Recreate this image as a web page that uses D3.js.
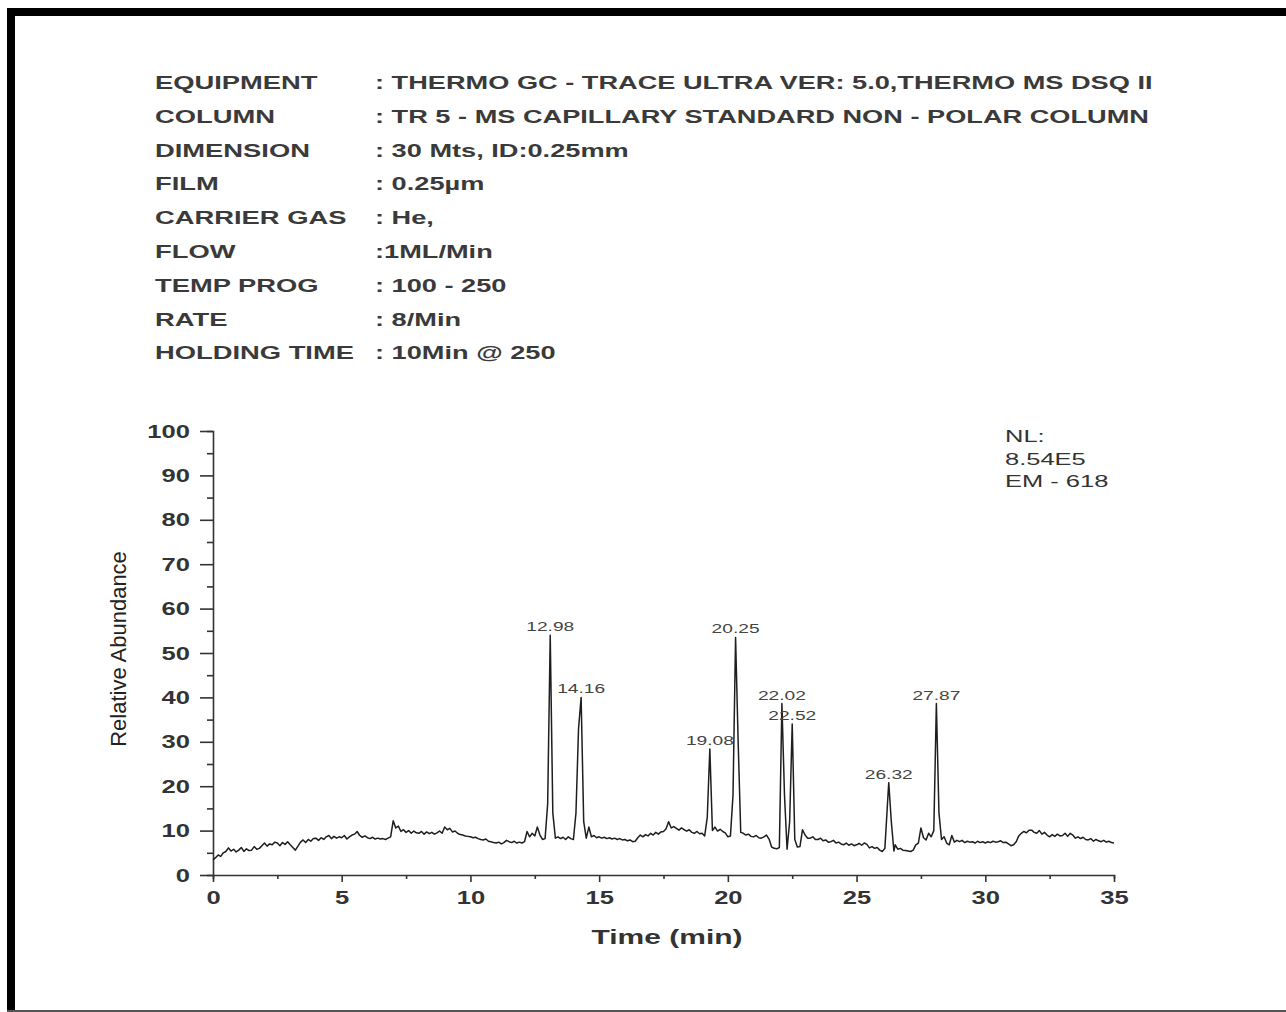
<!DOCTYPE html>
<html>
<head>
<meta charset="utf-8">
<script src="https://cdn.jsdelivr.net/npm/d3@7"></script>
<style>
  html, body { margin: 0; padding: 0; background: #fff; }
  svg { display: block; }
</style>
</head>
<body>
<div id="chart"></div>
<script>
// GC-MS run conditions printed above the chromatogram
const methodKeys = ['EQUIPMENT', 'COLUMN', 'DIMENSION', 'FILM', 'CARRIER GAS', 'FLOW', 'TEMP PROG', 'RATE', 'HOLDING TIME'];
const methodValues = [
  ': THERMO GC - TRACE ULTRA VER: 5.0,THERMO MS DSQ II',
  ': TR 5 - MS CAPILLARY STANDARD NON - POLAR COLUMN',
  ': 30 Mts, ID:0.25mm',
  ': 0.25µm',
  ': He,',
  ':1ML/Min',
  ': 100 - 250',
  ': 8/Min',
  ': 10Min @ 250'
];
const noteLines = ['NL:', '8.54E5', 'EM - 618'];

// labelled peaks: printed retention time, apex position and apex height as drawn
const peakLabels = ['12.98', '14.16', '19.08', '20.25', '22.02', '22.52', '26.32', '27.87'];
const peakTimes = [13.1, 14.3, 19.3, 20.3, 22.1, 22.5, 26.25, 28.1];
const peakHeights = [54, 40, 28.4, 53.5, 38.6, 34, 20.8, 38.6];

const xTicks = [0, 5, 10, 15, 20, 25, 30, 35];
const yTicks = [0, 10, 20, 30, 40, 50, 60, 70, 80, 90, 100];

// chromatogram trace [time (min), relative abundance]
const trace = [
  [0.0, 3.4], [0.1, 3.9], [0.2, 4.5], [0.3, 4.2], [0.4, 5.0], [0.5, 5.3], [0.6, 6.1], [0.7, 5.4], [0.8, 5.8], [0.9, 5.2],
  [1.0, 5.6], [1.1, 6.2], [1.2, 5.3], [1.3, 5.9], [1.4, 5.5], [1.5, 5.6], [1.6, 6.4], [1.7, 5.8], [1.8, 6.0], [1.9, 6.6],
  [2.0, 7.2], [2.1, 6.5], [2.2, 7.0], [2.3, 6.8], [2.4, 7.4], [2.5, 7.2], [2.6, 6.6], [2.7, 7.3], [2.8, 6.9], [2.9, 7.5],
  [3.0, 6.8], [3.1, 6.2], [3.2, 5.6], [3.3, 6.5], [3.4, 7.4], [3.5, 7.9], [3.6, 7.3], [3.7, 8.0], [3.8, 7.6], [3.9, 8.2],
  [4.0, 8.3], [4.1, 7.8], [4.2, 8.4], [4.3, 8.0], [4.4, 8.6], [4.5, 8.9], [4.6, 8.2], [4.7, 8.7], [4.8, 8.3], [4.9, 8.6],
  [5.0, 8.4], [5.1, 8.9], [5.2, 8.1], [5.3, 8.6], [5.4, 9.0], [5.5, 9.2], [5.6, 9.8], [5.7, 8.9], [5.8, 8.5], [5.9, 8.8],
  [6.0, 8.4], [6.1, 8.2], [6.2, 8.5], [6.3, 8.1], [6.4, 8.3], [6.5, 8.1], [6.6, 8.2], [6.7, 8.0], [6.8, 8.3], [6.9, 8.6],
  [7.0, 12.2], [7.1, 10.6], [7.2, 11.0], [7.3, 9.8], [7.4, 10.2], [7.5, 9.6], [7.6, 10.0], [7.7, 9.4], [7.8, 9.9], [7.9, 9.5],
  [8.0, 9.4], [8.1, 9.8], [8.2, 9.2], [8.3, 9.7], [8.4, 9.3], [8.5, 9.6], [8.6, 9.2], [8.7, 9.5], [8.8, 9.9], [8.9, 9.4],
  [9.0, 10.8], [9.1, 10.2], [9.2, 10.5], [9.3, 9.7], [9.4, 9.9], [9.5, 9.4], [9.6, 9.1], [9.7, 9.0], [9.8, 8.8], [9.9, 8.7],
  [10.0, 8.6], [10.1, 8.4], [10.2, 8.5], [10.3, 8.2], [10.4, 8.0], [10.5, 7.9], [10.6, 8.1], [10.7, 7.6], [10.8, 7.5], [10.9, 7.3],
  [11.0, 7.2], [11.1, 7.4], [11.2, 7.0], [11.3, 7.3], [11.4, 7.8], [11.5, 7.5], [11.6, 7.3], [11.7, 7.6], [11.8, 7.2], [11.9, 7.4],
  [12.0, 7.2], [12.1, 7.5], [12.2, 9.8], [12.3, 8.6], [12.4, 9.4], [12.5, 8.8], [12.6, 10.8], [12.7, 9.0], [12.8, 8.0], [12.9, 8.2],
  [13.0, 16], [13.1, 54], [13.2, 14], [13.3, 8.3], [13.4, 8.6], [13.5, 8.2], [13.6, 8.5], [13.7, 8.0], [13.8, 8.6], [13.9, 8.2],
  [14.0, 8.0], [14.1, 14], [14.2, 33], [14.3, 40], [14.4, 12], [14.5, 8.3], [14.6, 10.8], [14.7, 8.6], [14.8, 8.9], [14.9, 8.4],
  [15.0, 8.6], [15.1, 8.3], [15.2, 8.5], [15.3, 8.2], [15.4, 8.4], [15.5, 8.1], [15.6, 8.3], [15.7, 8.0], [15.8, 8.2], [15.9, 7.9],
  [16.0, 8.0], [16.1, 7.7], [16.2, 7.9], [16.3, 7.5], [16.4, 7.6], [16.5, 8.4], [16.6, 9.0], [16.7, 8.6], [16.8, 9.1], [16.9, 8.8],
  [17.0, 9.4], [17.1, 9.0], [17.2, 9.6], [17.3, 9.2], [17.4, 9.7], [17.5, 9.8], [17.6, 10.4], [17.7, 12.0], [17.8, 10.6], [17.9, 10.9],
  [18.0, 10.5], [18.1, 10.1], [18.2, 10.6], [18.3, 10.2], [18.4, 9.9], [18.5, 10.2], [18.6, 9.6], [18.7, 9.4], [18.8, 9.8], [18.9, 9.3],
  [19.0, 9.4], [19.1, 8.8], [19.2, 13], [19.3, 28.4], [19.4, 10], [19.5, 10.8], [19.6, 9.9], [19.7, 10.3], [19.8, 9.8], [19.9, 9.5],
  [20.0, 8.6], [20.1, 8.8], [20.2, 18], [20.3, 53.5], [20.4, 30], [20.5, 9.6], [20.6, 9.4], [20.7, 9.0], [20.8, 9.2], [20.9, 8.7],
  [21.0, 8.6], [21.1, 8.9], [21.2, 8.4], [21.3, 8.3], [21.4, 8.6], [21.5, 9.0], [21.6, 8.1], [21.7, 6.3], [21.8, 6.0], [21.9, 5.9],
  [22.0, 6.2], [22.1, 38.6], [22.2, 18], [22.3, 5.8], [22.4, 12], [22.5, 34], [22.6, 8.0], [22.7, 6.3], [22.8, 6.4], [22.9, 10.2],
  [23.0, 9.0], [23.1, 8.3], [23.2, 8.3], [23.3, 8.6], [23.4, 8.0], [23.5, 8.0], [23.6, 8.3], [23.7, 7.7], [23.8, 7.9], [23.9, 7.4],
  [24.0, 7.5], [24.1, 7.8], [24.2, 7.2], [24.3, 7.4], [24.4, 7.0], [24.5, 6.8], [24.6, 7.2], [24.7, 6.7], [24.8, 7.0], [24.9, 6.6],
  [25.0, 6.8], [25.1, 7.1], [25.2, 6.7], [25.3, 7.2], [25.4, 6.9], [25.5, 6.1], [25.6, 6.4], [25.7, 6.0], [25.8, 6.2], [25.9, 5.6],
  [26.0, 5.3], [26.1, 6.0], [26.2, 16], [26.25, 20.8], [26.35, 12], [26.45, 5.4], [26.5, 6.8], [26.6, 5.8], [26.7, 6.0], [26.8, 5.6], [26.9, 5.5],
  [27.0, 5.4], [27.1, 5.3], [27.2, 5.6], [27.3, 6.8], [27.4, 7.2], [27.5, 10.6], [27.6, 8.4], [27.7, 7.9], [27.8, 9.4], [27.9, 8.6],
  [28.0, 10], [28.1, 38.6], [28.2, 14], [28.3, 8.0], [28.4, 8.6], [28.5, 7.2], [28.6, 6.8], [28.7, 8.9], [28.8, 7.4], [28.9, 7.8],
  [29.0, 7.5], [29.1, 7.8], [29.2, 7.3], [29.3, 7.6], [29.4, 7.4], [29.5, 7.5], [29.6, 7.2], [29.7, 7.6], [29.8, 7.3], [29.9, 7.5],
  [30.0, 7.2], [30.1, 7.5], [30.2, 7.3], [30.3, 7.6], [30.4, 7.4], [30.5, 7.5], [30.6, 7.7], [30.7, 7.3], [30.8, 7.4], [30.9, 7.0],
  [31.0, 6.6], [31.1, 6.8], [31.2, 7.5], [31.3, 8.8], [31.4, 9.4], [31.5, 9.8], [31.6, 9.5], [31.7, 10.1], [31.8, 10.1], [31.9, 9.6],
  [32.0, 9.4], [32.1, 10.0], [32.2, 9.2], [32.3, 9.6], [32.4, 9.0], [32.5, 8.6], [32.6, 9.1], [32.7, 8.7], [32.8, 9.2], [32.9, 8.8],
  [33.0, 8.9], [33.1, 9.4], [33.2, 8.7], [33.3, 9.4], [33.4, 9.0], [33.5, 8.3], [33.6, 8.6], [33.7, 8.2], [33.8, 8.5], [33.9, 8.0],
  [34.0, 7.9], [34.1, 8.2], [34.2, 7.6], [34.3, 8.0], [34.4, 7.7], [34.5, 7.5], [34.6, 7.8], [34.7, 7.4], [34.8, 7.6], [34.9, 7.3],
  [35.0, 7.2]
];

const width = 1286;
const height = 1012;
const wide = 1.42; // the scan's lettering is much wider than Arial
const font = '"Liberation Sans", Arial, sans-serif';

const svg = d3.select('#chart')
  .append('svg')
  .attr('width', width)
  .attr('height', height);

// frame of the scanned page
svg.append('rect').attr('x', 7).attr('y', 8).attr('width', width - 7).attr('height', 8).attr('fill', '#000');
svg.append('rect').attr('x', 7).attr('y', 8).attr('width', 8).attr('height', height - 8).attr('fill', '#000');
svg.append('rect').attr('x', 7).attr('y', 1010).attr('width', width - 7).attr('height', 2).attr('fill', '#555');

function wideText(g, x, y, str, size, weight, anchor, stretch) {
  return g.append('text')
    .attr('transform', `translate(${x},${y}) scale(${stretch || wide},1)`)
    .attr('text-anchor', anchor || 'start')
    .style('font-family', font)
    .style('font-size', size + 'px')
    .style('font-weight', weight)
    .attr('fill', '#333')
    .text(str);
}

// method table
const header = svg.append('g');
methodKeys.forEach((k, i) => {
  const y = 89 + i * 33.8;
  wideText(header, 155, y, k, 18, 'bold', 'start', 1.52).attr('fill', '#3a3a3a');
  wideText(header, 375, y, methodValues[i], 18, 'bold', 'start', 1.51).attr('fill', '#3a3a3a');
});

// chromatogram
const x = d3.scaleLinear().domain([0, 35]).range([213, 1114]);
const y = d3.scaleLinear().domain([0, 100]).range([875, 431]);

const xAxis = svg.append('g')
  .attr('transform', `translate(0,${y(0)})`)
  .call(d3.axisBottom(x).tickValues(d3.range(0, 35.1, 2.5)).tickSize(4).tickFormat(''));
xAxis.selectAll('.tick line')
  .filter(d => xTicks.includes(d))
  .attr('y2', 7);
xAxis.selectAll('.tick')
  .filter(d => xTicks.includes(d))
  .append('text')
  .attr('transform', `translate(0,29) scale(${wide},1)`)
  .attr('fill', '#333')
  .style('font-family', font)
  .style('font-size', '18px')
  .style('font-weight', 'bold')
  .attr('text-anchor', 'middle')
  .text(d => d);

const yAxis = svg.append('g')
  .attr('transform', `translate(${x(0)},0)`)
  .call(d3.axisLeft(y).tickValues(d3.range(0, 100.1, 5)).tickSize(6).tickFormat(''));
yAxis.selectAll('.tick line')
  .filter(d => yTicks.includes(d))
  .attr('x2', -13);
yAxis.selectAll('.tick')
  .filter(d => yTicks.includes(d))
  .append('text')
  .attr('transform', `translate(-23,6) scale(${wide},1)`)
  .attr('fill', '#333')
  .style('font-family', font)
  .style('font-size', '18px')
  .style('font-weight', 'bold')
  .attr('text-anchor', 'end')
  .text(d => d);

svg.selectAll('.domain').attr('stroke', '#333').attr('stroke-width', 1.6);
svg.selectAll('.tick line').attr('stroke', '#333').attr('stroke-width', 1.6);

const line = d3.line()
  .x(d => x(d[0]))
  .y(d => y(d[1]));

svg.append('path')
  .datum(trace)
  .attr('d', line)
  .attr('fill', 'none')
  .attr('stroke', '#1e1e1e')
  .attr('stroke-width', 1.5)
  .attr('stroke-linejoin', 'round');

// peak labels
const labels = svg.append('g');
peakLabels.forEach((lab, i) => {
  wideText(labels, x(peakTimes[i]), y(peakHeights[i]) - 4, lab, 13.5, 'normal', 'middle')
    .attr('fill', '#444');
});

// axis titles
wideText(svg, 667, 944, 'Time (min)', 20, 'bold', 'middle', 1.5);

svg.append('text')
  .attr('transform', 'translate(126,649) rotate(-90)')
  .attr('text-anchor', 'middle')
  .style('font-family', font)
  .style('font-size', '22px')
  .attr('fill', '#222')
  .text('Relative Abundance');

// normalisation note
const note = svg.append('g');
noteLines.forEach((t, i) => {
  wideText(note, 1005, 442 + i * 22.5, t, 17, 'normal', 'start', 1.5);
});
</script>
</body>
</html>
